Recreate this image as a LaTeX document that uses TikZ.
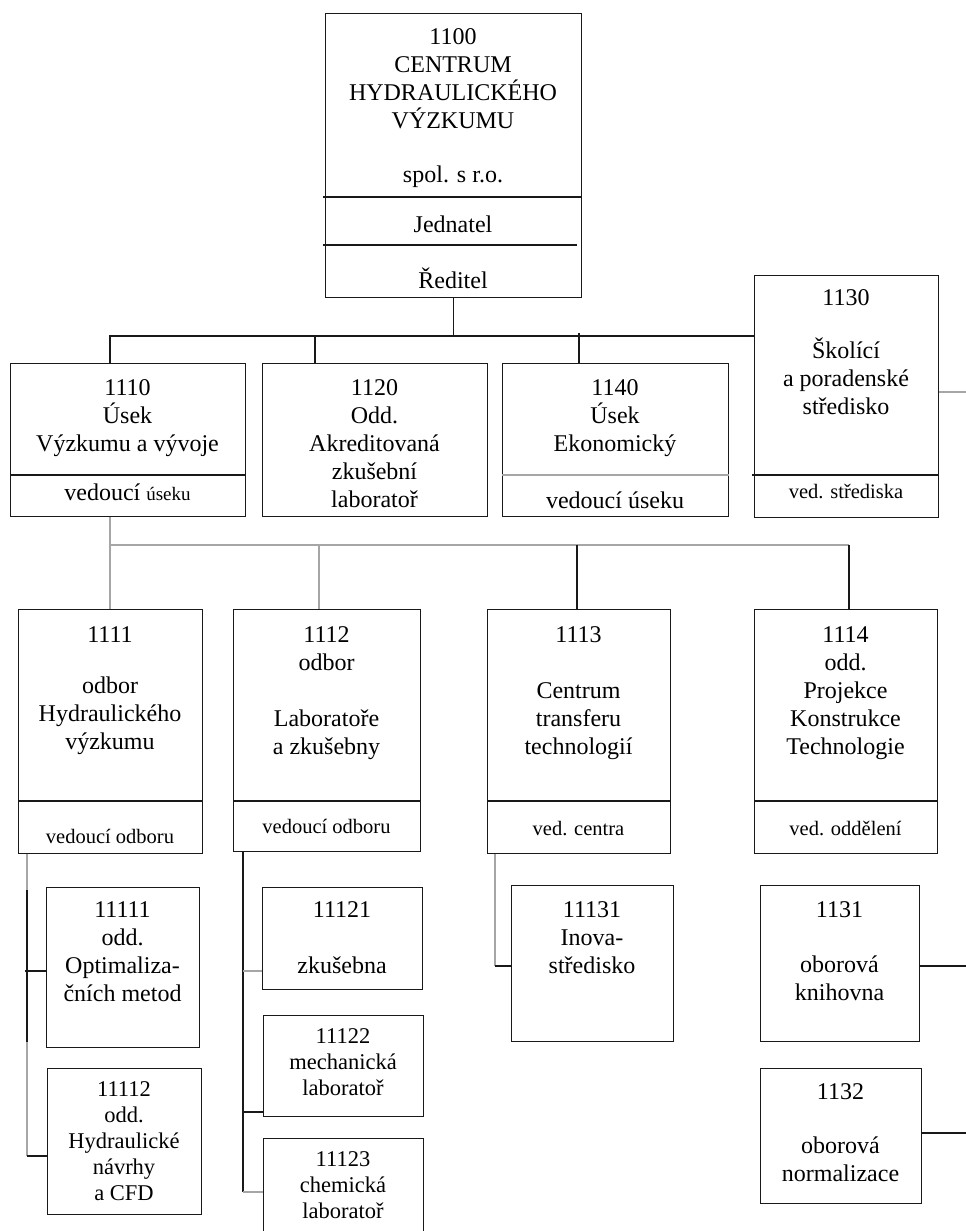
\documentclass[tikz,border=0pt]{standalone}
\usepackage{fontspec}
\setmainfont{Liberation Serif}
\newcommand\fA{\fontsize{24}{28}\selectfont}
\newcommand\fB{\fontsize{20.5}{24}\selectfont}
\newcommand\fC{\fontsize{22.5}{26}\selectfont}
\newcommand\fS{\fontsize{19}{22}\selectfont}
\newcommand\stk[1]{\vtop{\let\\\cr\halign{\hfil##\hfil\cr#1\crcr}}}
\begin{document}
\begin{tikzpicture}[x=1pt,y=-1pt,
  obox/.style={draw=black!90,line width=1.3pt,rectangle,anchor=north west,inner sep=0pt},
  blk/.style={draw=black!90,line width=1.3pt},
  gry/.style={draw=black!35,line width=1.8pt},
  lbl/.style={anchor=base,inner sep=0pt,font=\fA}]
\useasboundingbox (0,0) rectangle (966,1231);
% boxes
\node[obox,minimum width=256pt,minimum height=284pt] (b1100) at (325,13) {};
\node[obox,minimum width=235pt,minimum height=153pt] (b1110) at (10,363) {};
\node[obox,minimum width=225pt,minimum height=153pt] (b1120) at (262,363) {};
\node[obox,minimum width=226pt,minimum height=153pt] (b1140) at (502,363) {};
\node[obox,minimum width=184pt,minimum height=242pt] (b1130) at (754,275) {};
\node[obox,minimum width=184pt,minimum height=244pt] (b1111) at (18,609) {};
\node[obox,minimum width=187pt,minimum height=242pt] (b1112) at (233,609) {};
\node[obox,minimum width=183pt,minimum height=244pt] (b1113) at (487,609) {};
\node[obox,minimum width=183pt,minimum height=244pt] (b1114) at (754,609) {};
\node[obox,minimum width=153pt,minimum height=160pt] (b11111) at (46,887) {};
\node[obox,minimum width=154pt,minimum height=146pt] (b11112) at (47,1068) {};
\node[obox,minimum width=160pt,minimum height=102pt] (b11121) at (262,887) {};
\node[obox,minimum width=160pt,minimum height=101pt] (b11122) at (263,1015) {};
\node[obox,minimum width=160pt,minimum height=107pt] (b11123) at (263,1138) {};
\node[obox,minimum width=162pt,minimum height=156pt] (b11131) at (511,885) {};
\node[obox,minimum width=159pt,minimum height=156pt] (b1131) at (760,885) {};
\node[obox,minimum width=161pt,minimum height=135pt] (b1132) at (760,1068) {};
% dividers
\draw[blk] (323,197) -- (b1100.east |- 0,197);
\draw[blk] (323,245) -- (577,245);
\draw[blk] (b1110.west |- 0,475) -- (b1110.east |- 0,475);
\draw[gry,line width=1.3pt] (b1140.west |- 0,475) -- (b1140.east |- 0,475);
\draw[blk] (752,475) -- (b1130.east |- 0,475);
\foreach \b in {b1111,b1112,b1113,b1114}{
  \draw[blk] (\b.west |- 0,801) -- (\b.east |- 0,801);}
% texts
\node[lbl] (t1100a) at (453,45) {\stk{1100\\CENTRUM\\HYDRAULICKÉHO\\VÝZKUMU}};
\node[lbl] (t1100b) at (453,182) {spol. s r.o.};
\node[lbl] (t1100c) at (453,232) {Jednatel};
\node[lbl] (t1100d) at (453,288) {Ředitel};
\node[lbl] (t1110a) at (127.5,395) {\stk{1110\\Úsek\\Výzkumu a vývoje}};
\node[lbl] (t1110b) at (127.5,500) {vedoucí {\fS úseku}};
\node[lbl] (t1120) at (374.5,395) {\stk{1120\\Odd.\\Akreditovaná\\zkušební\\laboratoř}};
\node[lbl] (t1140a) at (615,395) {\stk{1140\\Úsek\\Ekonomický}};
\node[lbl] (t1140b) at (615,508) {vedoucí úseku};
\node[lbl] (t1130a) at (846,305) {1130};
\node[lbl] (t1130b) at (846,358) {\stk{Školící\\a poradenské\\středisko}};
\node[lbl,font=\fB] (t1130c) at (846,498) {ved. střediska};
\node[lbl] (t1111a) at (110,642) {1111};
\node[lbl] (t1111b) at (110,693) {\stk{odbor\\Hydraulického\\výzkumu}};
\node[lbl,font=\fB] (t1111c) at (110,843) {vedoucí odboru};
\node[lbl] (t1112a) at (326.5,642) {\stk{1112\\odbor}};
\node[lbl] (t1112b) at (326.5,726) {\stk{Laboratoře\\a zkušebny}};
\node[lbl,font=\fB] (t1112c) at (326.5,833) {vedoucí odboru};
\node[lbl] (t1113a) at (578.5,642) {1113};
\node[lbl] (t1113b) at (578.5,698) {\stk{Centrum\\transferu\\technologií}};
\node[lbl,font=\fB] (t1113c) at (578.5,835) {ved. centra};
\node[lbl] (t1114a) at (845.5,642) {\stk{1114\\odd.\\Projekce\\Konstrukce\\Technologie}};
\node[lbl,font=\fB] (t1114b) at (845.5,835) {ved. oddělení};
\node[lbl] (t11111) at (122.5,917) {\stk{11111\\odd.\\Optimaliza-\\čních metod}};
\node[lbl,font=\fC] (t11112) at (124,1096) {\stk{11112\\odd.\\Hydraulické\\návrhy\\a CFD}};
\node[lbl] (t11121a) at (342,917) {11121};
\node[lbl] (t11121b) at (342,973) {zkušebna};
\node[lbl,font=\fC] (t11122) at (343,1043) {\stk{11122\\mechanická\\laboratoř}};
\node[lbl,font=\fC] (t11123) at (343,1166) {\stk{11123\\chemická\\laboratoř}};
\node[lbl] (t11131) at (592,917) {\stk{11131\\Inova-\\středisko}};
\node[lbl] (t1131a) at (839.5,917) {1131};
\node[lbl] (t1131b) at (839.5,972) {\stk{oborová\\knihovna}};
\node[lbl] (t1132a) at (840.5,1099) {1132};
\node[lbl] (t1132b) at (840.5,1153) {\stk{oborová\\normalizace}};
% connectors level 1
\coordinate (h1110) at (110,336);
\coordinate (h1120) at (315,336);
\coordinate (h1140) at (579,336);
\draw[blk] (b1100.south) -- (b1100.south |- h1110);
\draw[blk] (h1110 |- b1110.north) -- (h1110) -- (b1130.west |- h1110);
\draw[blk] (h1120) -- (h1120 |- b1120.north);
\draw[blk] ([yshift=3pt]h1140) -- (h1140 |- b1140.north);
% connectors level 2
\coordinate (g1) at (110,545);
\coordinate (g2) at (319,545);
\coordinate (g3) at (577,545);
\coordinate (g4) at (849,545);
\draw[gry] (g1 |- b1110.south) -- (g1 |- b1111.north);
\draw[gry] (g1) -- (g4);
\draw[gry] (g2) -- (g2 |- b1112.north);
\draw[blk] (g3) -- (g3 |- b1113.north);
\draw[blk] (g4) -- (g4 |- b1114.north);
% connectors level 3
\coordinate (k1) at (27,890);
\coordinate (k2) at (27,1042);
\coordinate (k3) at (27,971);
\coordinate (k4) at (27,1156);
\draw[gry] (k1 |- b1111.south) -- (k1);
\draw[blk] (k1) -- (k2);
\draw[gry] (k2) -- (k4);
\draw[blk] ([xshift=-2pt]k3) -- (b11111.west |- k3);
\draw[blk] (k4) -- (b11112.west |- k4);
\coordinate (m1) at (243,971);
\coordinate (m2) at (243,1112);
\coordinate (m3) at (243,1192);
\draw[blk] (m1 |- b1112.south) -- (m3);
\draw[gry] (m1) -- (b11121.west |- m1);
\draw[blk] (m2) -- (b11122.west |- m2);
\draw[gry] (m3) -- (b11123.west |- m3);
\coordinate (n1) at (495,966);
\draw[gry] (n1 |- b1113.south) -- (n1);
\draw[blk] (n1) -- (b11131.west |- n1);
% right edge stubs
\coordinate (r1) at (966,392);
\coordinate (r2) at (966,966);
\coordinate (r3) at (966,1133);
\draw[gry] (b1130.east |- r1) -- (r1);
\draw[blk] (b1131.east |- r2) -- (r2);
\draw[blk] (b1132.east |- r3) -- (r3);
\end{tikzpicture}
\end{document}
